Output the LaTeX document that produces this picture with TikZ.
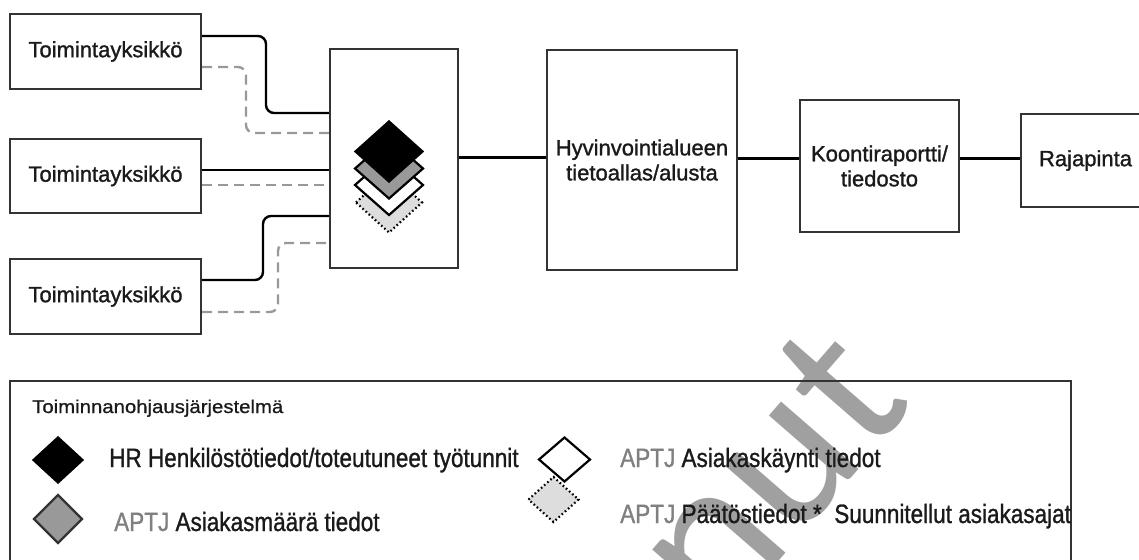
\documentclass[tikz,border=0pt]{standalone}
\usepackage{fontspec}
\setmainfont{Liberation Sans}
\newfontfamily\boxfont[FakeBold=1.2]{Liberation Sans}
\newfontfamily\legfont[FakeStretch=0.85,FakeBold=1]{Liberation Sans}
\newfontfamily\ttlfont[FakeStretch=1.1,FakeBold=0.8]{Liberation Sans}
\newfontfamily\wmfont{Carlito}
\definecolor{boxline}{HTML}{333333}
\definecolor{txt}{HTML}{1A1A1A}
\definecolor{dashgray}{HTML}{999999}
\definecolor{midgray}{HTML}{999999}
\definecolor{lightgray}{HTML}{DDDDDD}
\definecolor{aptj}{HTML}{808080}
\definecolor{wmgray}{HTML}{A0A0A0}
\newcommand\Dmd[5]{\draw[#1] (#2-#4,#3) -- (#2,#3-#5) -- (#2+#4,#3) -- (#2,#3+#5) -- cycle;}
\tikzset{
  box/.style={draw=boxline, line width=2.4pt, fill=white, inner sep=0pt, align=center,
    text=txt, font=\boxfont\fontsize{22}{25}\selectfont},
  conn/.style={line width=2.4pt, black, rounded corners=8pt},
  dconn/.style={line width=2.4pt, dashgray, dash pattern=on 10pt off 6pt, rounded corners=8pt},
  legtext/.style={anchor=base west, inner sep=0pt, text=txt, font=\legfont\fontsize{26.5}{30}\selectfont},
  dblack/.style={fill=black, draw=black, line width=1.5pt},
  dgray/.style={fill=midgray, draw=black, line width=2.2pt},
  dlgray/.style={fill=midgray, draw=boxline, line width=2.2pt},
  dwhite/.style={fill=white, draw=black, line width=2.2pt},
  ddot/.style={fill=lightgray, draw=black, line width=2.2pt, dash pattern=on 1.6pt off 2.6pt},
}
\begin{document}
\begin{tikzpicture}[x=1pt,y=-1pt]
\path[use as bounding box] (0,0) rectangle (1139,559);
\clip (0,0) rectangle (1139,559);
\fill[white] (0,0) rectangle (1139,559);

% watermark
\node[rotate=49, text=wmgray, inner sep=0pt, font=\wmfont\fontsize{215}{215}\selectfont] (wm) at (626,633) {Luonnut};

% boxes
\node[box, minimum width=191pt, minimum height=75pt] (b1) at (105.5,51.5) {Toimintayksikkö};
\node[box, minimum width=191pt, minimum height=74pt] (b2) at (105.5,176) {Toimintayksikkö};
\node[box, minimum width=191pt, minimum height=75pt] (b3) at (105.5,296.5) {Toimintayksikkö};
\node[box, minimum width=128pt, minimum height=219pt] (coll) at (394,158.5) {};
\node[box, minimum width=190pt, minimum height=220pt] (hyv) at (642,160) {Hyvinvointialueen\\tietoallas/alusta};
\node[box, minimum width=159pt, minimum height=132pt] (koon) at (879.5,166) {Koontiraportti/\\tiedosto};
\node[box, minimum width=129pt, minimum height=93pt] (raja) at (1085.5,160.5) {Rajapinta};

% connectors from units to collector
\draw[conn] (b1.east |- 0,36) -- (266,36) -- (266,113) -- (coll.west |- 0,113);
\draw[dconn] (b1.east |- 0,67) -- (246,67) -- (246,133) -- (coll.west |- 0,133);
\draw[conn] (b2.east |- 0,170) -- (coll.west |- 0,170);
\draw[dconn] (b2.east |- 0,185) -- (coll.west |- 0,185);
\draw[conn] (b3.east |- 0,280) -- (263,280) -- (263,216) -- (coll.west |- 0,216);
\draw[dconn] (b3.east |- 0,312) -- (278,312) -- (278,243) -- (coll.west |- 0,243);

\draw[conn] (coll.east |- 0,157.5) -- (hyv.west |- 0,157.5);
\draw[conn] (hyv.east |- 0,158.5) -- (koon.west |- 0,158.5);
\draw[conn] (koon.east |- 0,158.5) -- (raja.west |- 0,158.5);

% layered diamonds in collector
\Dmd{ddot}{389}{202.5}{33}{30}
\Dmd{dwhite}{389}{185}{34}{30}
\Dmd{dgray}{389}{168.5}{34}{30}
\Dmd{dblack}{389}{151.5}{34}{30.5}

% legend
\draw[draw=boxline, line width=2.4pt] (10,381) rectangle (1071,600);
\node[anchor=base west, inner sep=0pt, text=txt, font=\ttlfont\fontsize{18.5}{22}\selectfont] (ttl) at (32,413) {Toiminnanohjausjärjestelmä};
\Dmd{dblack}{58}{460}{25}{23}
\Dmd{dlgray}{58}{519}{24}{24}
\Dmd{ddot}{553.5}{499.5}{25}{22.5}
\Dmd{dwhite}{564.5}{459.5}{25.5}{22}
\node[legtext] (l1) at (109,467) {HR Henkilöstötiedot/toteutuneet työtunnit};
\node[legtext] (l2) at (114,531) {\textcolor{aptj}{APTJ} Asiakasmäärä tiedot};
\node[legtext] (l3) at (620,467) {\textcolor{aptj}{APTJ} Asiakaskäynti tiedot};
\node[legtext] (l4) at (620,523) {\textcolor{aptj}{APTJ} Päätöstiedot *\ \ Suunnitellut asiakasajat};
\end{tikzpicture}
\end{document}
